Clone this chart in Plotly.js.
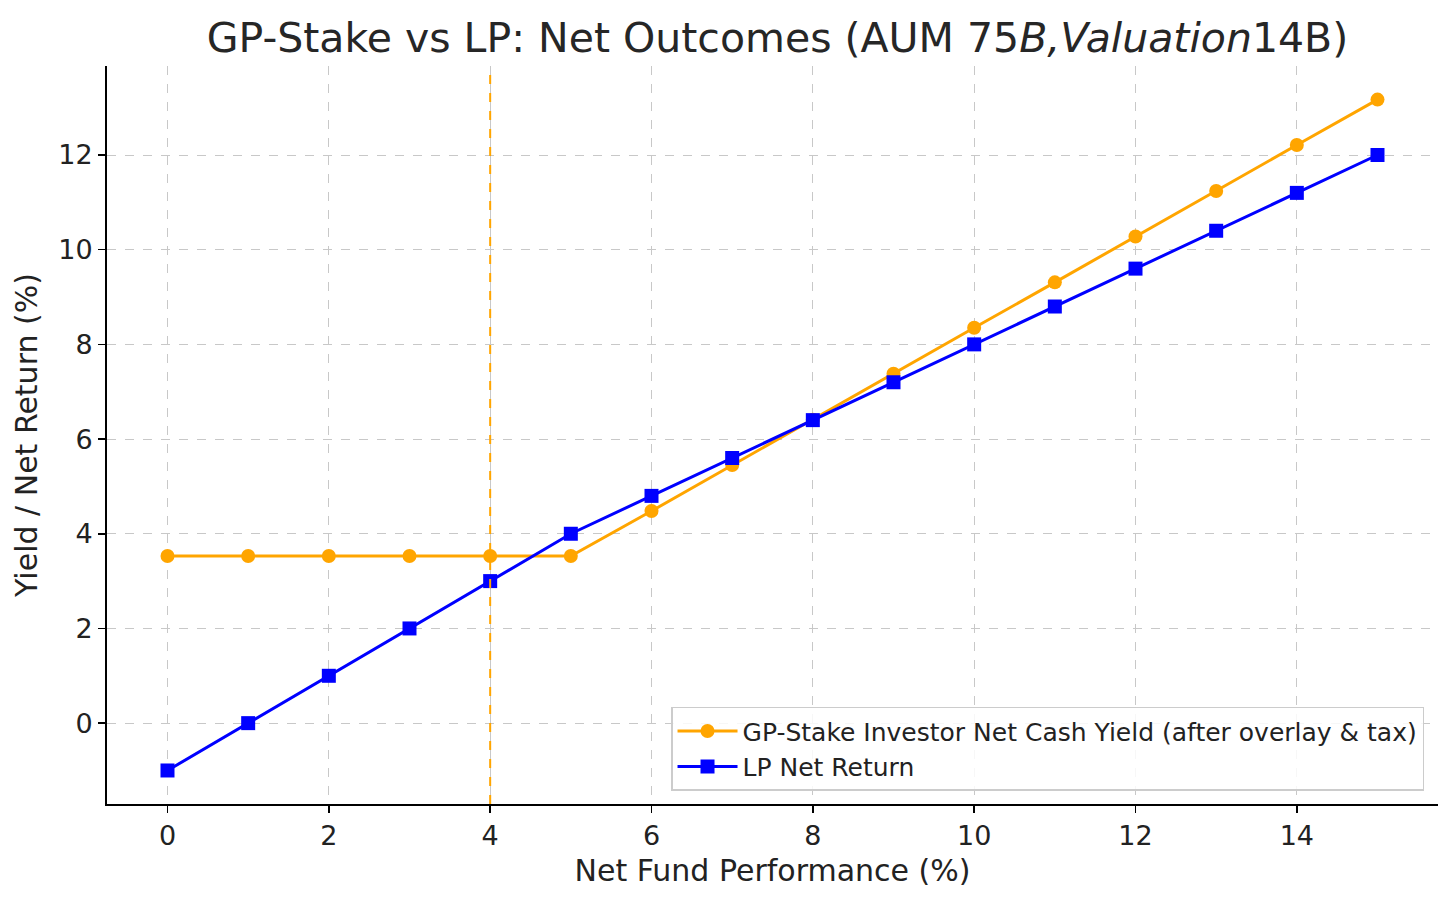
<!DOCTYPE html>
<html>
<head>
<meta charset="utf-8">
<script src="https://cdn.plot.ly/plotly-3.0.1.min.js"></script>
<style>
  html, body { margin: 0; padding: 0; background: #fff; }
  #chart { width: 1456px; height: 903px; }
</style>
</head>
<body>
<div id="chart"></div>
<script>
// net fund performance (%)
var perf = [0, 1, 2, 3, 4, 5, 6, 7, 8, 9, 10, 11, 12, 13, 14, 15];
// GP-stake investor net cash yield (after overlay & tax)
var gpYield = [3.53, 3.53, 3.53, 3.53, 3.53, 3.53, 4.48, 5.45, 6.41, 7.38, 8.35, 9.31, 10.28, 11.24, 12.21, 13.17];
// LP net return
var lpReturn = [-1, 0, 1, 2, 3, 4, 4.8, 5.6, 6.4, 7.2, 8, 8.8, 9.6, 10.4, 11.2, 12];
var breakeven = 4;

var gpTrace = {
  x: perf,
  y: gpYield,
  mode: 'lines+markers',
  type: 'scatter',
  name: 'GP-Stake Investor Net Cash Yield (after overlay & tax)',
  line: {color: 'orange', width: 3},
  marker: {color: 'orange', size: 14, symbol: 'circle'}
};

var lpTrace = {
  x: perf,
  y: lpReturn,
  mode: 'lines+markers',
  type: 'scatter',
  name: 'LP Net Return',
  line: {color: 'blue', width: 3},
  marker: {color: 'blue', size: 14, symbol: 'square'}
};

var layout = {
  width: 1456,
  height: 903,
  paper_bgcolor: '#fff',
  plot_bgcolor: '#fff',
  font: {family: 'DejaVu Sans', color: '#222', size: 27},
  margin: {l: 107, r: 18, t: 66, b: 99},
  title: {
    text: 'GP-Stake vs LP: Net Outcomes (AUM 75<i>B,Valuation</i>14B)',
    font: {size: 41, color: '#262626'},
    x: 0.534, xanchor: 'center',
    y: 0.958, yanchor: 'middle'
  },
  xaxis: {
    title: {text: 'Net Fund Performance (%)', font: {size: 30}, standoff: 10},
    range: [-0.75, 15.75],
    tickmode: 'array',
    tickvals: [0, 2, 4, 6, 8, 10, 12, 14],
    ticks: 'outside', ticklen: 7, tickwidth: 1.5, tickcolor: '#000',
    showline: true, linecolor: '#000', linewidth: 2,
    showgrid: true, gridcolor: '#c8c8c8', griddash: 'dash', gridwidth: 1,
    zeroline: false
  },
  yaxis: {
    title: {text: 'Yield / Net Return (%)', font: {size: 30}, standoff: 12},
    range: [-1.708, 13.88],
    tickmode: 'array',
    tickvals: [0, 2, 4, 6, 8, 10, 12],
    ticks: 'outside', ticklen: 7, tickwidth: 1.5, tickcolor: '#000',
    showline: true, linecolor: '#000', linewidth: 2,
    showgrid: true, gridcolor: '#c8c8c8', griddash: 'dash', gridwidth: 1,
    zeroline: false
  },
  shapes: [{
    type: 'line', xref: 'x', yref: 'paper',
    x0: breakeven, x1: breakeven, y0: 0, y1: 1,
    line: {color: 'orange', width: 2, dash: 'dash'}
  }],
  legend: {
    x: 0.9895, y: 0.018, xanchor: 'right', yanchor: 'bottom',
    bgcolor: 'rgba(255,255,255,0.85)',
    bordercolor: '#cccccc', borderwidth: 1.5,
    font: {size: 25, color: '#222'},
    itemwidth: 60
  },
  showlegend: true
};

Plotly.newPlot('chart', [gpTrace, lpTrace], layout, {displayModeBar: false, staticPlot: true});
</script>
</body>
</html>
